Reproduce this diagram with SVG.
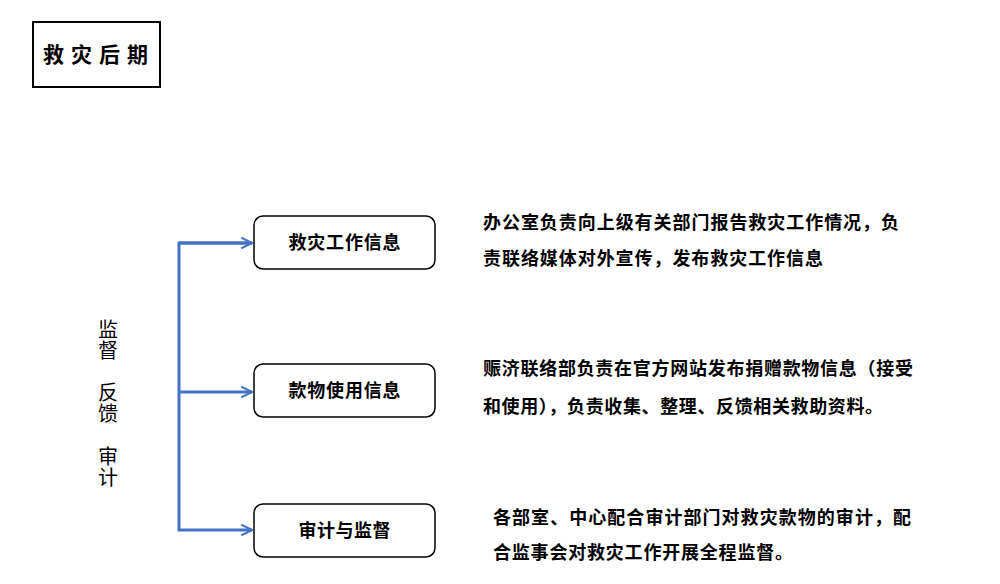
<svg xmlns="http://www.w3.org/2000/svg" width="1000" height="584" viewBox="0 0 1000 584">
<style>
.t{font-family:"Liberation Sans","Noto Sans CJK SC",sans-serif;fill:#000}
.b{font-weight:bold}
.box{fill:#fff;stroke:#000;stroke-width:1.5}
.conn{fill:none;stroke:#4472C4;stroke-width:3}
</style>
<defs>
<marker id="arr" viewBox="0 0 10 10" refX="9" refY="5" markerWidth="4.5" markerHeight="4.5" orient="auto" markerUnits="strokeWidth">
<path d="M1,1 L9,5 L1,9" fill="none" stroke="#4472C4" stroke-width="1.5"/>
</marker>
</defs>
<rect width="1000" height="584" fill="#fff"/>
<g id="title">
<rect x="33" y="22" width="127" height="65" fill="#fff" stroke="#000" stroke-width="2"/>
<text class="t b" x="99" y="62" font-size="21" text-anchor="middle" letter-spacing="7">救灾后期</text>
</g>
<g id="side-label" class="t" font-size="20">
<text x="108" y="337" text-anchor="middle">监</text>
<text x="108" y="358" text-anchor="middle">督</text>
<text x="108" y="400" text-anchor="middle">反</text>
<text x="108" y="421" text-anchor="middle">馈</text>
<text x="108" y="464" text-anchor="middle">审</text>
<text x="108" y="485" text-anchor="middle">计</text>
</g>
<g id="connectors">
<path class="conn" d="M252,243 L179,243 L179,530 L252,530" marker-end="url(#arr)"/>
<path class="conn" d="M179,392 L252,392" marker-end="url(#arr)"/>
<path class="conn" d="M179,243 L252,243" marker-end="url(#arr)"/>
</g>
<g id="node1">
<rect class="box" x="254" y="216" width="181" height="53" rx="9"/>
<text class="t b" x="344.5" y="249" font-size="18" text-anchor="middle" textLength="112" lengthAdjust="spacing">救灾工作信息</text>
</g>
<g id="node2">
<rect class="box" x="254" y="364" width="181" height="53" rx="9"/>
<text class="t b" x="344.5" y="397" font-size="18" text-anchor="middle" textLength="112" lengthAdjust="spacing">款物使用信息</text>
</g>
<g id="node3">
<rect class="box" x="254" y="504" width="181" height="53" rx="9"/>
<text class="t b" x="344.5" y="537" font-size="18" text-anchor="middle" textLength="92" lengthAdjust="spacing">审计与监督</text>
</g>
<g id="desc1" class="t b" font-size="18">
<text x="483" y="229" textLength="416" lengthAdjust="spacing">办公室负责向上级有关部门报告救灾工作情况，负</text>
<text x="483" y="265" textLength="340" lengthAdjust="spacing">责联络媒体对外宣传，发布救灾工作信息</text>
</g>
<g id="desc2" class="t b" font-size="18">
<text x="483" y="375" textLength="430" lengthAdjust="spacing">赈济联络部负责在官方网站发布捐赠款物信息（接受</text>
<text x="483" y="413" textLength="400" lengthAdjust="spacing">和使用），负责收集、整理、反馈相关救助资料。</text>
</g>
<g id="desc3" class="t b" font-size="18">
<text x="493" y="524" textLength="418" lengthAdjust="spacing">各部室、中心配合审计部门对救灾款物的审计，配</text>
<text x="493" y="559" textLength="300" lengthAdjust="spacing">合监事会对救灾工作开展全程监督。</text>
</g>
</svg>
